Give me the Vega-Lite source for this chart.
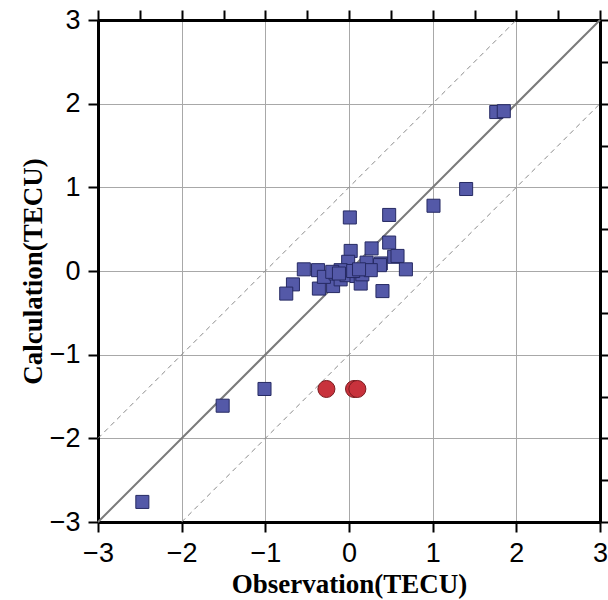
{
  "$schema": "https://vega.github.io/schema/vega-lite/v6.json",
  "width": 502,
  "height": 502,
  "autosize": {"type": "none"},
  "padding": {"left": 98, "top": 20, "right": 8, "bottom": 78},
  "background": "white",
  "config": {
    "view": {"stroke": null},
    "axis": {
      "labelFont": "Liberation Sans",
      "labelFontSize": 27,
      "labelColor": "black",
      "titleFont": "Liberation Serif",
      "titleFontWeight": "bold",
      "titleFontSize": 27,
      "titleColor": "black",
      "domainColor": "black",
      "domainWidth": 3,
      "tickColor": "black",
      "tickWidth": 2,
      "gridColor": "#a8a8a8",
      "gridWidth": 1
    }
  },
  "datasets": {
    "squares": [
      {"obs": -2.47, "calc": -2.76},
      {"obs": -1.51, "calc": -1.61},
      {"obs": -1.01, "calc": -1.41},
      {"obs": 1.76, "calc": 1.90},
      {"obs": 1.85, "calc": 1.91},
      {"obs": 1.40, "calc": 0.98},
      {"obs": 1.01, "calc": 0.78},
      {"obs": 0.01, "calc": 0.64},
      {"obs": 0.48, "calc": 0.67},
      {"obs": 0.02, "calc": 0.24},
      {"obs": 0.27, "calc": 0.27},
      {"obs": 0.48, "calc": 0.34},
      {"obs": 0.54, "calc": 0.17},
      {"obs": 0.58, "calc": 0.18},
      {"obs": 0.68, "calc": 0.02},
      {"obs": -0.54, "calc": 0.02},
      {"obs": -0.37, "calc": 0.01},
      {"obs": -0.67, "calc": -0.16},
      {"obs": -0.75, "calc": -0.27},
      {"obs": -0.36, "calc": -0.21},
      {"obs": -0.19, "calc": -0.18},
      {"obs": 0.40, "calc": -0.24},
      {"obs": 0.38, "calc": 0.09},
      {"obs": 0.37, "calc": 0.07},
      {"obs": 0.21, "calc": 0.10},
      {"obs": -0.01, "calc": 0.11},
      {"obs": -0.30, "calc": -0.07},
      {"obs": -0.16, "calc": -0.03},
      {"obs": -0.10, "calc": -0.10},
      {"obs": -0.03, "calc": -0.05},
      {"obs": 0.09, "calc": -0.06},
      {"obs": 0.14, "calc": -0.15},
      {"obs": 0.16, "calc": -0.04},
      {"obs": -0.10, "calc": 0.01},
      {"obs": -0.20, "calc": -0.01},
      {"obs": 0.26, "calc": 0.01},
      {"obs": -0.12, "calc": -0.03},
      {"obs": 0.05, "calc": 0.00},
      {"obs": 0.12, "calc": 0.02}
    ],
    "circles": [
      {"obs": -0.27, "calc": -1.41},
      {"obs": 0.06, "calc": -1.41},
      {"obs": 0.10, "calc": -1.41}
    ],
    "identity": [
      {"obs": -3, "calc": -3},
      {"obs": 3, "calc": 3}
    ],
    "bounds": [
      {"obs": -3, "calc": -2, "g": "upper"},
      {"obs": 2, "calc": 3, "g": "upper"},
      {"obs": -2, "calc": -3, "g": "lower"},
      {"obs": 3, "calc": 2, "g": "lower"}
    ]
  },
  "resolve": {"axis": {"x": "independent", "y": "independent"}},
  "layer": [
    {
      "data": {"name": "identity"},
      "mark": {"type": "line", "color": "#7a7a7a", "strokeWidth": 2},
      "encoding": {
        "x": {
          "field": "obs", "type": "quantitative",
          "scale": {"domain": [-3, 3], "nice": false, "zero": false},
          "axis": {
            "orient": "bottom",
            "title": "Observation(TECU)",
            "values": [-3, -2.5, -2, -1.5, -1, -0.5, 0, 0.5, 1, 1.5, 2, 2.5, 3],
            "format": "d",
            "labelExpr": "datum.value % 1 === 0 ? datum.label : ''",
            "grid": true,
            "tickSize": 10,
            "labelPadding": 8,
            "titlePadding": 5,
            "labelFlush": false,
            "labelOverlap": false,
            "encode": {"ticks": {"update": {"y2": {"signal": "datum.value % 1 === 0 ? 10 : 6"}}}}
          }
        },
        "y": {
          "field": "calc", "type": "quantitative",
          "scale": {"domain": [-3, 3], "nice": false, "zero": false},
          "axis": {
            "orient": "left",
            "title": "Calculation(TECU)",
            "values": [-3, -2.5, -2, -1.5, -1, -0.5, 0, 0.5, 1, 1.5, 2, 2.5, 3],
            "format": "d",
            "labelExpr": "datum.value % 1 === 0 ? datum.label : ''",
            "grid": true,
            "tickSize": 10,
            "labelPadding": 8,
            "titlePadding": 2,
            "labelFlush": false,
            "labelOverlap": false,
            "encode": {"ticks": {"update": {"x2": {"signal": "datum.value % 1 === 0 ? -10 : -6"}}}}
          }
        }
      }
    },
    {
      "data": {"name": "bounds"},
      "mark": {"type": "line", "color": "#8a8a8a", "strokeWidth": 1, "strokeDash": [5, 4]},
      "encoding": {
        "x": {"field": "obs", "type": "quantitative", "axis": null},
        "y": {"field": "calc", "type": "quantitative", "axis": null},
        "detail": {"field": "g", "type": "nominal"}
      }
    },
    {
      "data": {"name": "squares"},
      "mark": {"type": "point", "shape": "square", "filled": true, "size": 170, "color": "#5459a8", "stroke": "#262a63", "strokeWidth": 1, "opacity": 1},
      "encoding": {
        "x": {
          "field": "obs", "type": "quantitative",
          "axis": {
            "orient": "top",
            "title": null,
            "values": [-3, -2.5, -2, -1.5, -1, -0.5, 0, 0.5, 1, 1.5, 2, 2.5, 3],
            "labels": false,
            "grid": false,
            "tickSize": 10,
            "encode": {"ticks": {"update": {"y2": {"signal": "datum.value % 1 === 0 ? -10 : -6"}}}}
          }
        },
        "y": {
          "field": "calc", "type": "quantitative",
          "axis": {
            "orient": "right",
            "title": null,
            "values": [-3, -2.5, -2, -1.5, -1, -0.5, 0, 0.5, 1, 1.5, 2, 2.5, 3],
            "labels": false,
            "grid": false,
            "tickSize": 10,
            "encode": {"ticks": {"update": {"x2": {"signal": "datum.value % 1 === 0 ? 10 : 6"}}}}
          }
        }
      }
    },
    {
      "data": {"name": "circles"},
      "mark": {"type": "circle", "size": 290, "color": "#c8323c", "stroke": "#7b1c20", "strokeWidth": 1, "opacity": 1},
      "encoding": {
        "x": {"field": "obs", "type": "quantitative", "axis": null},
        "y": {"field": "calc", "type": "quantitative", "axis": null}
      }
    }
  ]
}
